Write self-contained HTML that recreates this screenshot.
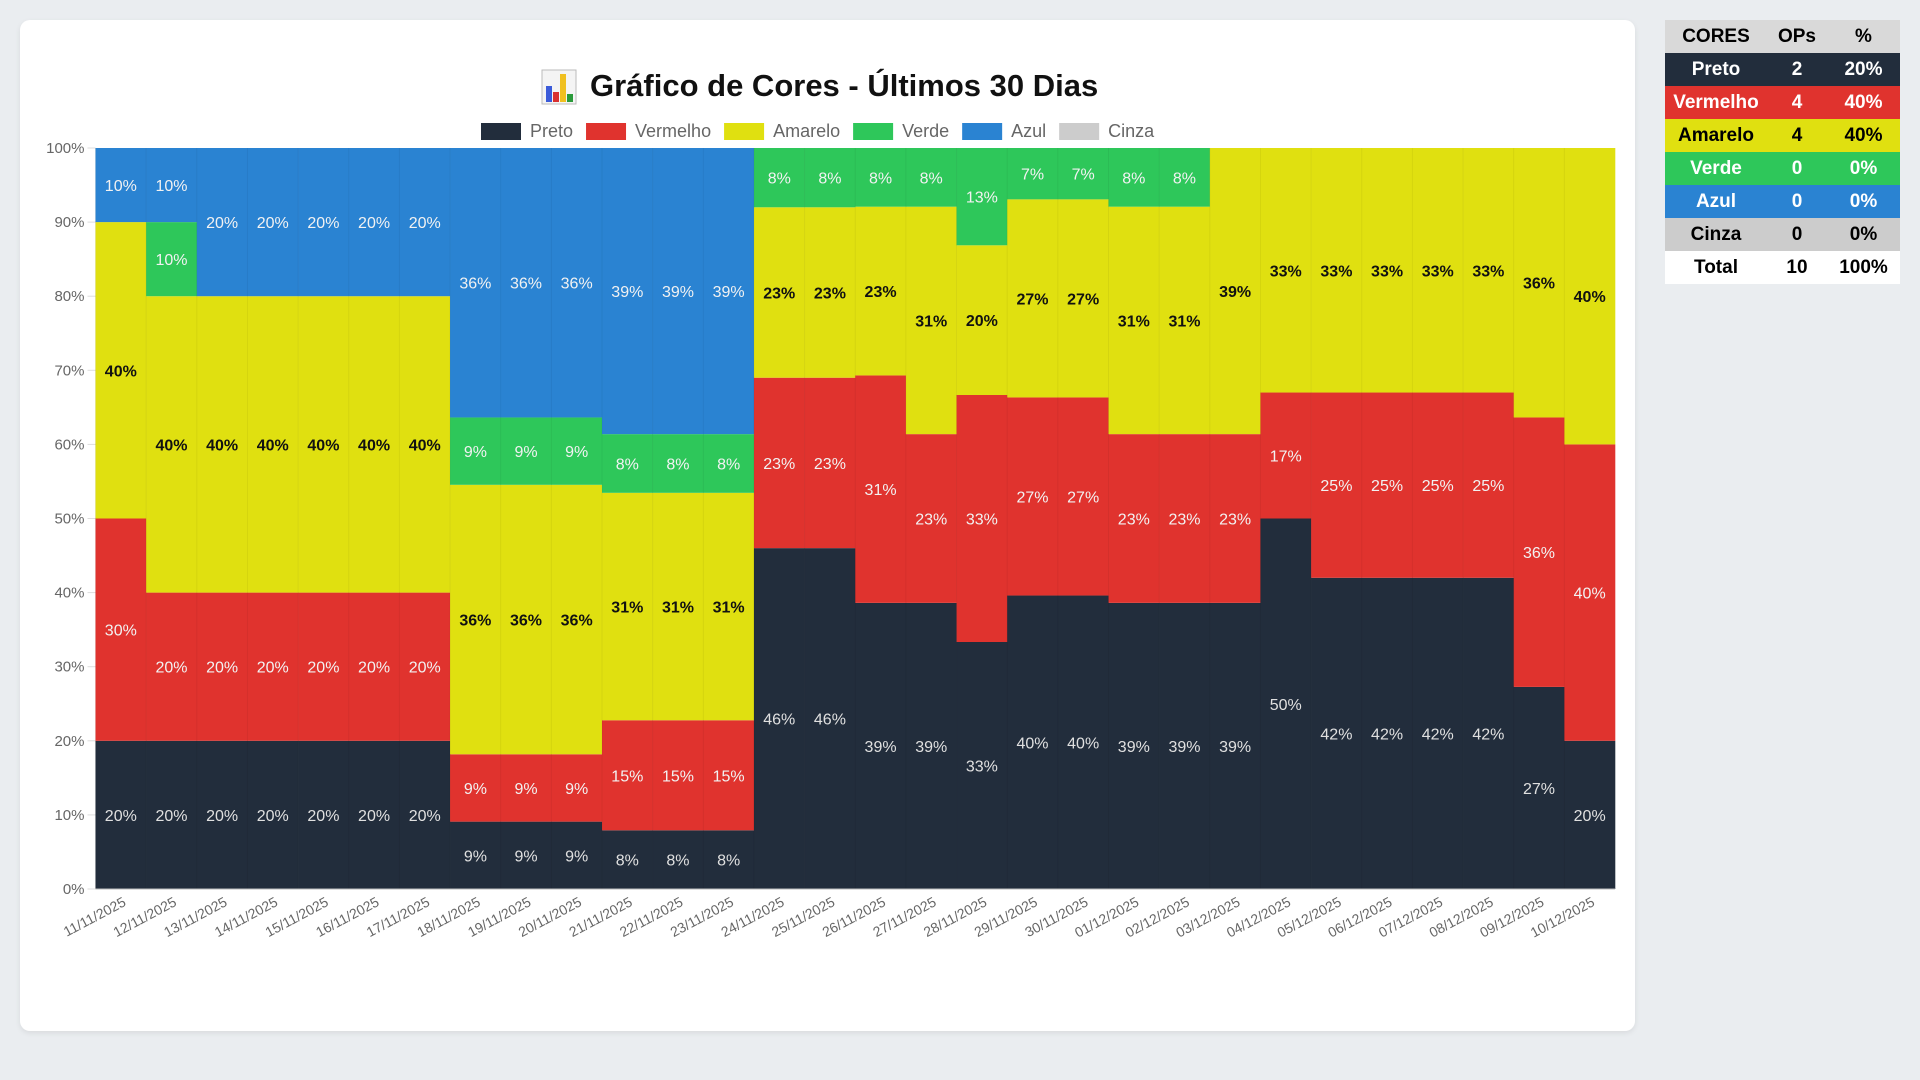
<!DOCTYPE html>
<html><head><meta charset="utf-8">
<style>
html,body{margin:0;padding:0;width:1920px;height:1080px;background:#eaedf0;overflow:hidden;font-family:"Liberation Sans",sans-serif;}
#card{position:absolute;left:20px;top:20px;width:1615px;height:1011px;background:#fff;border-radius:10px;box-shadow:0 2px 6px rgba(0,0,0,0.08);}
#chart{position:absolute;left:0;top:0;}
table{position:absolute;left:1665px;top:20px;width:235px;border-collapse:collapse;font-weight:bold;font-size:19px;}
td,th{height:33px;text-align:center;padding:0;}
</style></head><body>
<div id="card"></div>
<svg id="chart" width="1920" height="1080"></svg>
<table>
<colgroup><col style="width:102px"><col style="width:60px"><col></colgroup>
<tr style="background:#d9d9d9;color:#000"><th>CORES</th><th>OPs</th><th>%</th></tr>
<tr style="background:#222d3c;color:#fff"><td>Preto</td><td>2</td><td>20%</td></tr>
<tr style="background:#e0332e;color:#fff"><td>Vermelho</td><td>4</td><td>40%</td></tr>
<tr style="background:#e0e010;color:#000"><td>Amarelo</td><td>4</td><td>40%</td></tr>
<tr style="background:#2ec75a;color:#fff"><td>Verde</td><td>0</td><td>0%</td></tr>
<tr style="background:#2a83d2;color:#fff"><td>Azul</td><td>0</td><td>0%</td></tr>
<tr style="background:#cccccc;color:#000"><td>Cinza</td><td>0</td><td>0%</td></tr>
<tr style="background:#fff;color:#000"><td>Total</td><td>10</td><td>100%</td></tr>
</table>
<script>
const dates=["11/11/2025","12/11/2025","13/11/2025","14/11/2025","15/11/2025","16/11/2025","17/11/2025","18/11/2025","19/11/2025","20/11/2025","21/11/2025","22/11/2025","23/11/2025","24/11/2025","25/11/2025","26/11/2025","27/11/2025","28/11/2025","29/11/2025","30/11/2025","01/12/2025","02/12/2025","03/12/2025","04/12/2025","05/12/2025","06/12/2025","07/12/2025","08/12/2025","09/12/2025","10/12/2025"];
const preto=[20,20,20,20,20,20,20,9,9,9,8,8,8,46,46,39,39,33,40,40,39,39,39,50,42,42,42,42,27,20];
const vermelho=[30,20,20,20,20,20,20,9,9,9,15,15,15,23,23,31,23,33,27,27,23,23,23,17,25,25,25,25,36,40];
const amarelo=[40,40,40,40,40,40,40,36,36,36,31,31,31,23,23,23,31,20,27,27,31,31,39,33,33,33,33,33,36,40];
const verde=[0,10,0,0,0,0,0,9,9,9,8,8,8,8,8,8,8,13,7,7,8,8,0,0,0,0,0,0,0,0];
const azul=[10,10,20,20,20,20,20,36,36,36,39,39,39,0,0,0,0,0,0,0,0,0,0,0,0,0,0,0,0,0];
const cinza=[0,0,0,0,0,0,0,0,0,0,0,0,0,0,0,0,0,0,0,0,0,0,0,0,0,0,0,0,0,0];
const yTicks=[0,10,20,30,40,50,60,70,80,90,100];
const seriesNames=["Preto","Vermelho","Amarelo","Verde","Azul","Cinza"];
const seriesData=[preto,vermelho,amarelo,verde,azul,cinza];
const colors=["#222d3c","#e0332e","#e0e010","#2ec75a","#2a83d2","#cccccc"];
const labelColors=["#e0e0e0","#f2f2f2","#111","#f2f2f2","#f2f2f2","#111"];

const NS="http://www.w3.org/2000/svg";
const svg=document.getElementById('chart');
const L=95.5,R=1615,T=148,B=889;
const bw=(R-L)/dates.length;
function x(i){return L+i*bw;}
function y(p){return B-(B-T)*p/100;}
function mk(tag,attrs,parent){const e=document.createElementNS(NS,tag);for(const k in attrs)e.setAttribute(k,attrs[k]);(parent||svg).appendChild(e);return e;}

// title
const tg=mk('g',{});


const ic=mk('g',{},tg);


mk('rect',{x:542,y:70,width:34,height:34,fill:'#f4f4f4',stroke:'#bbb'},ic);
mk('rect',{x:546,y:86,width:6,height:16,fill:'#3b5bd9'},ic);
mk('rect',{x:553,y:92,width:6,height:10,fill:'#d93030'},ic);
mk('rect',{x:560,y:74,width:6,height:28,fill:'#f0c020'},ic);
mk('rect',{x:567,y:94,width:6,height:8,fill:'#2a9a3a'},ic);
const tt=mk('text',{x:590,y:96,'font-size':31,'font-weight':'bold',fill:'#111','font-family':'Liberation Sans, sans-serif'},tg);
tt.textContent='Gráfico de Cores - Últimos 30 Dias';

// legend
let lx=481;
seriesNames.forEach((n,i)=>{
  const g=mk('g',{});
  
  
  mk('rect',{x:lx,y:123,width:40,height:17,fill:colors[i]},g);
  const t=mk('text',{x:lx+49,y:137,'font-size':18,fill:'#666'},g);
  t.textContent=n;
  lx+=49+t.getComputedTextLength()+13;
});

// y axis
yTicks.forEach(v=>{
  const g=mk('g',{});
  
  
  mk('line',{x1:L-8,x2:L,y1:y(v),y2:y(v),stroke:'#ddd'},g);
  const t=mk('text',{x:L-11,y:y(v)+5,'font-size':15,fill:'#666','text-anchor':'end'},g);
  t.textContent=v+'%';
});

// bars
dates.forEach((d,i)=>{
  const tot=seriesData.reduce((s,a)=>s+a[i],0);
  let acc=0;
  const g=mk('g',{});
  
  
  seriesData.forEach((arr,s)=>{
    const v=arr[i];if(!v)return;
    const p=v/tot*100;
    const r=mk('rect',{x:x(i),y:y(acc+p),width:bw+0.3,height:y(acc)-y(acc+p),fill:colors[s]},g);
    
    
    const t=mk('text',{x:x(i)+bw/2,y:y(acc+p/2)+6,'font-size':16,fill:labelColors[s],'text-anchor':'middle','font-weight':s==2?'bold':'normal'},g);
    
    
    t.textContent=v+'%';
    acc+=p;
  });
  mk('line',{x1:x(i),x2:x(i),y1:T,y2:B,stroke:'rgba(0,0,0,0.05)'},g);
  const xl=mk('text',{'font-size':14,fill:'#666','text-anchor':'end',transform:`translate(${x(i)+bw/2+6},${B+16}) rotate(-28)`});
  
  
  xl.textContent=d;
});
mk('line',{x1:L,x2:R,y1:B,y2:B,stroke:'#bbb'});
</script>
</body></html>
